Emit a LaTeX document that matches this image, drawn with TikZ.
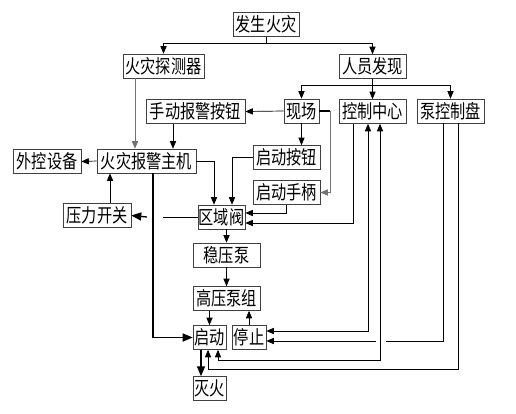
\documentclass[tikz,border=0pt]{standalone}
\usepackage{fontspec}
\newfontfamily\cjk[FakeStretch=0.8]{Noto Sans CJK SC}
\usetikzlibrary{arrows}

\begin{document}
\begin{tikzpicture}[->, >=triangle 45, x=1pt, y=-1pt, line width=0.7pt,
    box/.style={draw=black!75, inner sep=0pt, minimum height=24pt,
                font=\cjk\fontsize{19}{19}\selectfont},
    heavy/.style={line width=1.3pt},
    faint/.style={draw=black!55}]
    \useasboundingbox (0,0) rectangle (516,413);
    	\node[box, minimum width=66pt] (fire) at (266,24.5) {发生火灾};
    	\node[box, minimum width=81pt] (det) at (163.5,66) {火灾探测器};
    	\node[box, minimum width=67pt] (man) at (372.5,66.5) {人员发现};
    	\node[box, minimum width=99pt] (hand) at (195.5,111.5) {手动报警按钮};
    	\node[box, minimum width=35pt] (site) at (301.5,111) {现场};
    	\node[box, minimum width=67pt] (ctrl) at (372.5,111.5) {控制中心};
    	\node[box, minimum width=67pt] (pump) at (450.5,111) {泵控制盘};
    	\node[box, minimum width=99pt] (host) at (146.5,161) {火灾报警主机};
    	\node[box, minimum width=68pt] (ext) at (47,161.5) {外控设备};
    	\node[box, minimum width=67pt] (btn) at (286.5,157.5) {启动按钮};
    	\node[box, minimum width=67pt] (lever) at (286.5,192.5) {启动手柄};
    	\node[box, minimum width=68pt] (psw) at (97,215.5) {压力开关};
    	\node[box, minimum width=47pt] (valve) at (221.5,217) {区域阀};
    	\node[box, minimum width=67pt] (jockey) at (226.5,255) {稳压泵};
    	\node[box, minimum width=67pt] (main) at (226.5,298.5) {高压泵组};
    	\node[box, minimum width=33pt] (start) at (209.5,337.5) {启动};
    	\node[box, minimum width=34pt] (stop) at (249,337.5) {停止};
    	\node[box, minimum width=33pt] (out) at (209.5,388.5) {灭火};
    	\coordinate (gapr) at (163,217);
    	\coordinate (gapl) at (147,217);
    	\coordinate (jumpr) at (386,341);
    	\coordinate (jumpl) at (376,341);
    	\draw (fire.south) -- ++(0,6) -| (det.north);
    	\draw (fire.south) -- ++(0,6) -| (man.north);
    	\draw (man.south) -- ++(0,6) -| (site.north);
    	\draw (man.south) -- ++(0,6) -| (ctrl.north);
    	\draw (man.south) -- ++(0,6) -| (pump.north);
    	\draw (site.west) -- (hand.east);
    	\draw[-, heavy] (site.east) -- ++(11,0);
    	\draw[faint] (site.east) ++(11,0) |- (lever.east);
    	\draw (site.south) -- (site.south |- btn.north);
    	\draw[faint] ([xshift=-28.5pt]det.south) -- ([xshift=-28.5pt]det.south |- host.north);
    	\draw ([xshift=-22.5pt]hand.south) -- ([xshift=-22.5pt]hand.south |- host.north);
    	\draw (host.west) -- (ext.east);
    	\draw (host.east) -| ([xshift=-7.5pt]valve.north);
    	\draw (btn.west) -| ([xshift=10.5pt]valve.north);
    	\draw (lever.south) |- ([yshift=4pt]valve.east);
    	\draw ([xshift=-19.5pt]ctrl.south) |- ([yshift=-6pt]valve.east);
    	\draw ([xshift=13pt]psw.north) -- ([xshift=13pt]psw.north |- host.south);
    	\draw[-] (valve.west) -- (gapr);
    	\draw[heavy] (gapl) -- (psw.east);
    	\draw[heavy] ([xshift=6.5pt]host.south) |- (start.west);
    	\draw (jockey.north |- valve.south) -- (jockey.north);
    	\draw (jockey.south) -- (main.north);
    	\draw (start.north |- main.south) -- (start.north);
    	\draw (stop.north) -- (stop.north |- main.south);
    	\draw[heavy] ([xshift=-8.5pt]start.south) -- ([xshift=-8.5pt]out.north);
    	\draw[<->] ([xshift=-4.5pt]ctrl.south) |- ([yshift=6.5pt]stop.east);
    	\draw[<->] ([xshift=7.5pt]ctrl.south) -- ++(0,236) -| ([xshift=8.5pt]start.south);
    	\draw[-] ([xshift=-7.5pt]pump.south) |- (jumpr);
    	\draw (jumpl) -- ([yshift=-3.5pt]stop.east);
    	\draw ([xshift=7.5pt]pump.south) -- ++(0,246) -| ([xshift=-1.5pt]start.south);
\end{tikzpicture}
\end{document}
